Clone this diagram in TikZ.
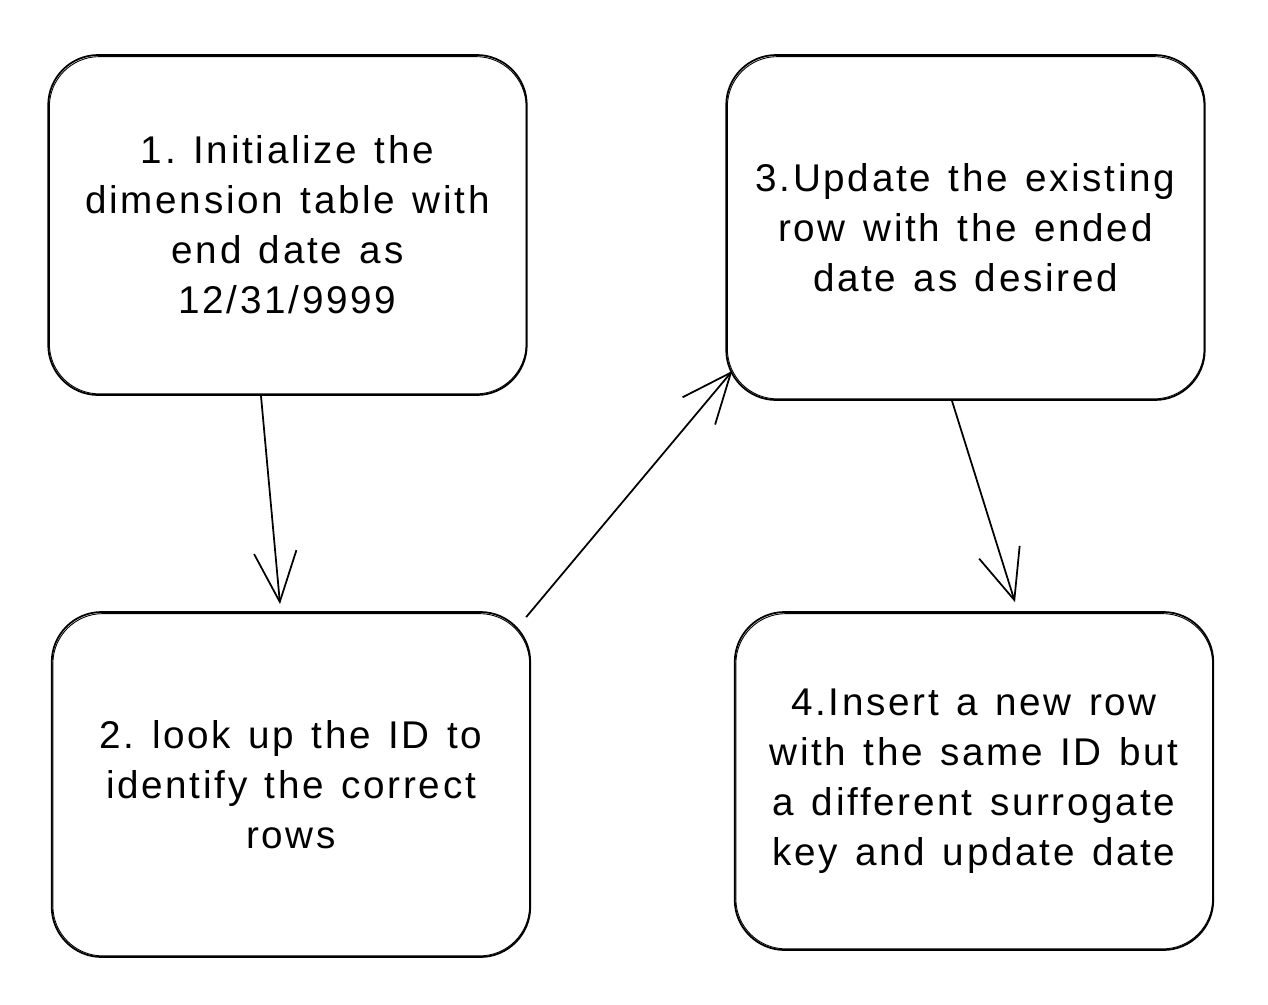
\documentclass[tikz,border=0pt]{standalone}
\usepackage{fontspec}
\setmainfont{Liberation Sans}[LetterSpace=7, WordSpace=1.3]
\usetikzlibrary{arrows.meta, positioning}

\begin{document}
\frenchspacing
\begin{tikzpicture}[font=\fontsize{22}{28.5}\selectfont,
  stepbox/.style={rectangle, rounded corners=1cm, draw=black, line width=1pt,
               minimum width=9.57cm, align=center},
  flow/.style={-{Straight Barb[length=10mm, width=8.5mm, line width=1pt]}, line width=1pt}]
  \useasboundingbox (0,0) rectangle (25.36,-20.08);
  \node[stepbox, minimum height=6.8cm]  (init)   at (5.75,-4.5)
    {1. Initialize the\\dimension table with\\end date as\\12/31/9999};
  \node[stepbox, minimum height=6.9cm]  (lookup) at (5.82,-15.69)
    {2. look up the ID to\\identify the correct\\rows};
  \node[stepbox, minimum height=6.9cm]  (update) at (19.31,-4.55)
    {3.Update the existing\\row with the ended\\date as desired};
  \node[stepbox, minimum height=6.76cm] (insert) at (19.48,-15.62)
    {4.Insert a new row\\with the same ID but\\a different surrogate\\key and update date};
  % second stroke for the sketchy look
  \foreach \n in {init, lookup, update, insert}
    \draw[line width=0.5pt, rounded corners=1cm]
      ([shift={(0.04,-0.05)}]\n.north west) rectangle ([shift={(-0.03,0.04)}]\n.south east);
  \draw[flow] ([xshift=-0.53cm]init.south) -- ([xshift=-0.22cm, yshift=0.14cm]lookup.north);
  \draw[flow] ([xshift=-0.1cm, yshift=-0.12cm]lookup.north east) -- ([xshift=0.14cm, yshift=0.6cm]update.south west);
  \draw[flow] ([xshift=-0.27cm]update.south) -- ([xshift=0.82cm, yshift=0.18cm]insert.north);
\end{tikzpicture}
\end{document}
